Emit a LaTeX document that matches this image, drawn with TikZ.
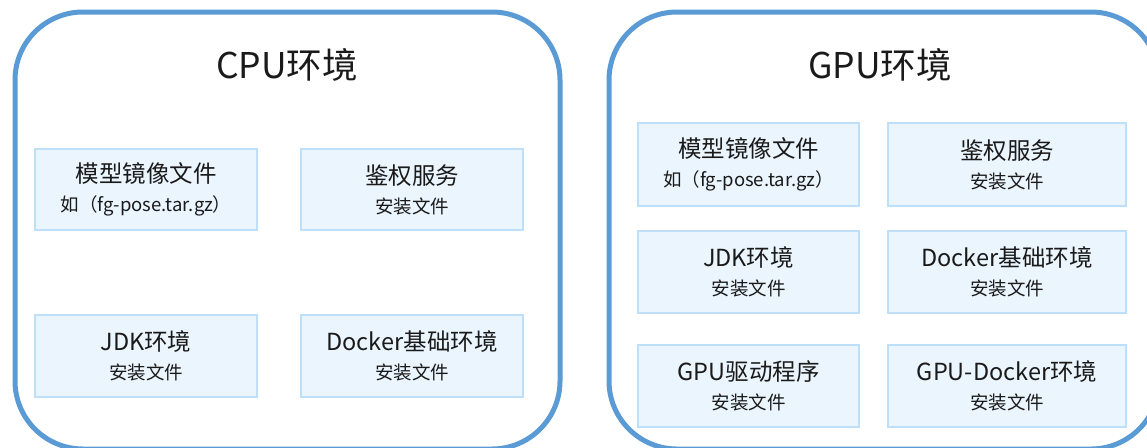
\documentclass[tikz,border=0pt]{standalone}
\usepackage{fontspec}
\setmainfont{Noto Sans CJK SC}
\definecolor{outerblue}{HTML}{5B9BD5}
\definecolor{innerfill}{HTML}{EBF5FE}
\definecolor{innerline}{HTML}{BEDFF8}
\definecolor{txt}{HTML}{1A1A1A}
\tikzset{
  envbox/.style={draw=outerblue, line width=5pt, rounded corners=68pt},
  envtitle/.style={text=txt, font=\fontsize{35.5}{40}\selectfont, inner sep=0pt},
  itembox/.style={draw=innerline, fill=innerfill, line width=1.2pt, text=txt,
    align=center, inner sep=0pt, font=\fontsize{23.5}{29}\selectfont},
}
\newcommand{\subline}[1]{{\fontsize{18.5}{29}\selectfont #1}}
\begin{document}
\begin{tikzpicture}[x=1pt,y=-1pt]
\useasboundingbox (0,0) rectangle (1147,447);
\clip (0,0) rectangle (1147,447);
% outer containers
\draw[envbox] (15,12) rectangle (560,449);
\draw[envbox] (609,12) rectangle (1159,449);
\node[envtitle] (cput) at (287,65) {CPU环境};
\node[envtitle] (gput) at (880,65) {GPU环境};
% CPU items
\node[itembox, minimum width=222pt, minimum height=81pt] (c1) at (146,189.5)
  {模型镜像文件\\\subline{如（fg-pose.tar.gz）}};
\node[itembox, minimum width=222pt, minimum height=81pt] (c2) at (412,189.5)
  {鉴权服务\\\subline{安装文件}};
\node[itembox, minimum width=222pt, minimum height=82pt] (c3) at (146,356)
  {JDK环境\\\subline{安装文件}};
\node[itembox, minimum width=222pt, minimum height=82pt] (c4) at (412,356)
  {Docker基础环境\\\subline{安装文件}};
% GPU items
\node[itembox, minimum width=221pt, minimum height=83pt] (g1) at (748.5,164.5)
  {模型镜像文件\\\subline{如（fg-pose.tar.gz）}};
\node[itembox, minimum width=238pt, minimum height=83pt] (g2) at (1007,164.5)
  {鉴权服务\\\subline{安装文件}};
\node[itembox, minimum width=221pt, minimum height=82pt] (g3) at (748.5,272)
  {JDK环境\\\subline{安装文件}};
\node[itembox, minimum width=238pt, minimum height=82pt] (g4) at (1007,272)
  {Docker基础环境\\\subline{安装文件}};
\node[itembox, minimum width=221pt, minimum height=82pt] (g5) at (748.5,386)
  {GPU驱动程序\\\subline{安装文件}};
\node[itembox, minimum width=238pt, minimum height=82pt] (g6) at (1007,386)
  {GPU-Docker环境\\\subline{安装文件}};
\end{tikzpicture}
\end{document}
